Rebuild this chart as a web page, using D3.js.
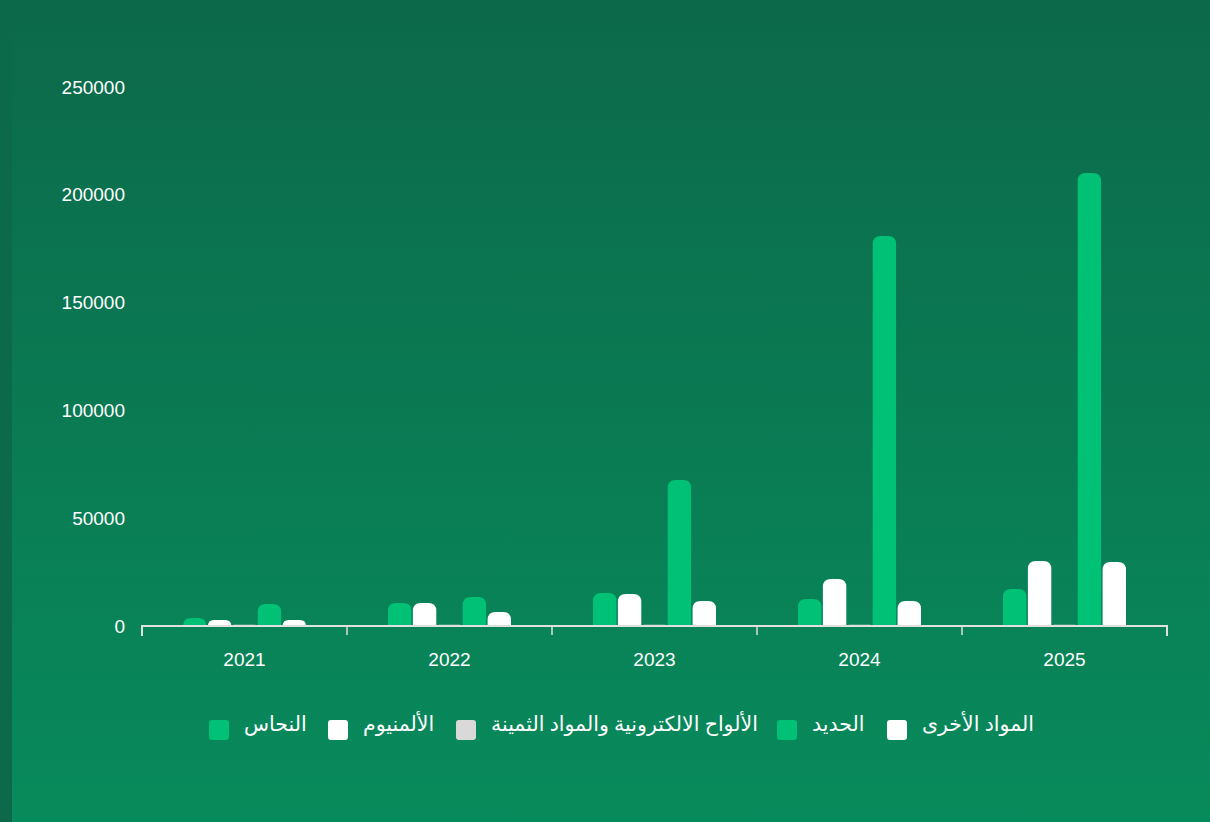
<!DOCTYPE html>
<html>
<head>
<meta charset="utf-8">
<script src="https://cdn.jsdelivr.net/npm/d3@7"></script>
<style>
  html, body { margin: 0; padding: 0; }
  body { width: 1210px; height: 822px; overflow: hidden; background: #0c6a4a; }
  #wrap { position: absolute; left: 12px; top: 0; width: 1198px; height: 822px;
          background: linear-gradient(to bottom, #0c694a 0%, #088b5c 100%); }
  svg { position: absolute; left: 0; top: 0; }
  .tick text { font-family: "Liberation Sans", Arial, sans-serif; }
</style>
</head>
<body>
<div id="wrap"></div>
<svg id="chart" width="1210" height="822"></svg>
<script>
// data
const years = ["2021", "2022", "2023", "2024", "2025"];
const seriesNames = ["النحاس", "الألمنيوم", "الألواح الالكترونية والمواد الثمينة", "الحديد", "المواد الأخرى"];
const seriesColors = ["#00c176", "#ffffff", "#d9d9d9", "#00c176", "#ffffff"];
const copper   = [3700, 10700, 15300, 12500, 17200];
const aluminum = [2800, 10700, 14800, 21800, 30100];
const boards   = [600, 600, 600, 600, 600];
const iron     = [10200, 13400, 67700, 180900, 210100];
const other    = [2800, 6500, 11600, 11600, 29700];
const yTicks = [0, 50000, 100000, 150000, 200000, 250000];

const allSeries = [copper, aluminum, boards, iron, other];

const svg = d3.select('#chart');
const margin = { top: 87, left: 142, right: 43, bottom: 196 };
const width = 1210, height = 822;
const innerW = width - margin.left - margin.right;   // 1025
const innerH = height - margin.top - margin.bottom;  // 539

const g = svg.append('g')
    .attr('transform', `translate(${margin.left}, ${margin.top})`);

const x0 = d3.scaleBand().domain(years).range([0, innerW]).paddingInner(0).paddingOuter(0);
const x1 = d3.scaleBand().domain(d3.range(seriesNames.length))
    .range([0, x0.bandwidth() * 0.6]).paddingInner(0.06);
const groupOffset = x0.bandwidth() * 0.2;
const y = d3.scaleLinear().domain([0, 250000]).range([innerH, 0]);

// y labels (no axis line)
g.selectAll('.ylab')
    .data(yTicks)
    .enter().append('text')
    .attr('class', 'ylab')
    .attr('x', -17)
    .attr('y', d => y(d))
    .attr('dy', '0.35em')
    .attr('text-anchor', 'end')
    .attr('fill', '#ffffff')
    .style('font-family', '"Liberation Sans", Arial, sans-serif')
    .style('font-size', '19px')
    .text(d => d);

// rounded-top bar path
function barPath(x, yTop, w, h) {
    const r = Math.min(8, w / 2, Math.max(h, 0));
    const yb = yTop + h;
    return `M${x},${yb}V${yTop + r}Q${x},${yTop} ${x + r},${yTop}H${x + w - r}Q${x + w},${yTop} ${x + w},${yTop + r}V${yb}Z`;
}

const groups = g.selectAll('.year')
    .data(years)
    .enter().append('g')
    .attr('class', 'year')
    .attr('transform', d => `translate(${x0(d) + groupOffset}, 0)`);

groups.selectAll('path')
    .data((d, i) => allSeries.map((s, k) => ({ k: k, v: s[i] })))
    .enter().append('path')
    .attr('fill', d => seriesColors[d.k])
    .attr('d', d => barPath(x1(d.k), y(d.v), x1.bandwidth(), innerH - y(d.v)));

// x axis
const xAxis = g.append('g')
    .attr('transform', `translate(0, ${innerH})`)
    .call(d3.axisBottom(x0).tickSize(0).tickPadding(27));
xAxis.select('.domain').attr('stroke', '#e0e0e0').attr('stroke-width', 2)
    .attr('d', `M0,10V0H${innerW}V10`);
xAxis.selectAll('.tick text')
    .attr('fill', '#ffffff')
    .style('font-size', '19px');
// band boundary ticks
xAxis.selectAll('.bline')
    .data(years.slice(1))
    .enter().append('line')
    .attr('x1', d => x0(d)).attr('x2', d => x0(d))
    .attr('y1', 0).attr('y2', 9)
    .attr('stroke', '#e0e0e0').attr('stroke-width', 1.5);

// legend
const legendX = [209, 328, 456, 777, 887];
const legend = svg.append('g').attr('class', 'legend');
const items = legend.selectAll('g')
    .data(seriesNames)
    .enter().append('g')
    .attr('transform', (d, i) => `translate(${legendX[i]}, 720)`);
items.append('rect')
    .attr('width', 20).attr('height', 20).attr('rx', 3)
    .attr('fill', (d, i) => seriesColors[i]);
items.append('text')
    .attr('x', 35)
    .attr('y', 4)
    .attr('dy', '0.35em')
    .attr('fill', '#ffffff')
    .attr('direction', 'ltr')
    .style('font-family', '"Noto Sans", "DejaVu Sans", sans-serif')
    .style('font-size', '20.5px')
    .text(d => d);
</script>
</body>
</html>
